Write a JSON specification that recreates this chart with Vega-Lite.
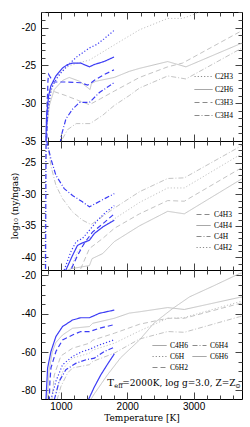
{
"$schema": "https://vega.github.io/schema/vega-lite/v6.json",
"padding": {"left": 9, "top": 5, "right": 5, "bottom": 0},
"spacing": 0,
"bounds": "flush",
"config": {
  "view": {"stroke": "black", "strokeWidth": 1},
  "axis": {"domain": false, "grid": false, "tickColor": "#444", "tickWidth": 1, "labelFont": "Liberation Sans", "labelFontSize": 10, "labelColor": "black", "titleFont": "DejaVu Serif", "titleFontWeight": "normal", "titleColor": "black", "titleFontSize": 9, "labelFlush": false, "labelOverlap": false},
  "legend": {"labelFont": "Liberation Serif", "labelFontSize": 7.5, "labelColor": "black", "symbolStrokeColor": "#8a8a8a", "symbolStrokeWidth": 1, "title": null, "padding": 0}
},
"data": {"values": [
{"p":1,"s":"C2H3","m":"b","t":760,"v":-40},{"p":1,"s":"C2H3","m":"b","t":775,"v":-35},{"p":1,"s":"C2H3","m":"b","t":800,"v":-31.5},{"p":1,"s":"C2H3","m":"b","t":825,"v":-29.8},{"p":1,"s":"C2H3","m":"b","t":850,"v":-28.2},{"p":1,"s":"C2H3","m":"b","t":900,"v":-27.3},{"p":1,"s":"C2H3","m":"b","t":950,"v":-26.6},{"p":1,"s":"C2H3","m":"b","t":1000,"v":-26},{"p":1,"s":"C2H3","m":"b","t":1075,"v":-25.3},{"p":1,"s":"C2H3","m":"b","t":1150,"v":-24.6},{"p":1,"s":"C2H3","m":"b","t":1250,"v":-23.8},{"p":1,"s":"C2H3","m":"b","t":1350,"v":-23.2},{"p":1,"s":"C2H3","m":"b","t":1430,"v":-22.7},{"p":1,"s":"C2H3","m":"b","t":1550,"v":-22.2},{"p":1,"s":"C2H3","m":"b","t":1650,"v":-21.5},{"p":1,"s":"C2H3","m":"b","t":1800,"v":-20.4},
{"p":1,"s":"C2H3","m":"g","t":760,"v":-40},{"p":1,"s":"C2H3","m":"g","t":790,"v":-33},{"p":1,"s":"C2H3","m":"g","t":825,"v":-29.9},{"p":1,"s":"C2H3","m":"g","t":875,"v":-27.7},{"p":1,"s":"C2H3","m":"g","t":975,"v":-26},{"p":1,"s":"C2H3","m":"g","t":1075,"v":-25.3},{"p":1,"s":"C2H3","m":"g","t":1180,"v":-24.9},{"p":1,"s":"C2H3","m":"g","t":1300,"v":-24.6},{"p":1,"s":"C2H3","m":"g","t":1430,"v":-24.3},{"p":1,"s":"C2H3","m":"g","t":1805,"v":-22.3},{"p":1,"s":"C2H3","m":"g","t":2185,"v":-20.3},{"p":1,"s":"C2H3","m":"g","t":2610,"v":-18.8},{"p":1,"s":"C2H3","m":"g","t":2835,"v":-18.8},{"p":1,"s":"C2H3","m":"g","t":3010,"v":-18.25},{"p":1,"s":"C2H3","m":"g","t":3200,"v":-17.5},
{"p":1,"s":"C2H6","m":"b","t":765,"v":-40},{"p":1,"s":"C2H6","m":"b","t":775,"v":-34.7},{"p":1,"s":"C2H6","m":"b","t":785,"v":-31.6},{"p":1,"s":"C2H6","m":"b","t":815,"v":-29},{"p":1,"s":"C2H6","m":"b","t":850,"v":-27.7},{"p":1,"s":"C2H6","m":"b","t":925,"v":-26.4},{"p":1,"s":"C2H6","m":"b","t":1025,"v":-25.35},{"p":1,"s":"C2H6","m":"b","t":1100,"v":-24.9},{"p":1,"s":"C2H6","m":"b","t":1180,"v":-24.7},{"p":1,"s":"C2H6","m":"b","t":1300,"v":-24.7},{"p":1,"s":"C2H6","m":"b","t":1350,"v":-24.9},{"p":1,"s":"C2H6","m":"b","t":1430,"v":-25.2},{"p":1,"s":"C2H6","m":"b","t":1500,"v":-24.9},{"p":1,"s":"C2H6","m":"b","t":1650,"v":-24.5},{"p":1,"s":"C2H6","m":"b","t":1800,"v":-23.9},
{"p":1,"s":"C2H6","m":"g","t":760,"v":-40},{"p":1,"s":"C2H6","m":"g","t":790,"v":-33},{"p":1,"s":"C2H6","m":"g","t":825,"v":-30.3},{"p":1,"s":"C2H6","m":"g","t":900,"v":-28.2},{"p":1,"s":"C2H6","m":"g","t":1025,"v":-27},{"p":1,"s":"C2H6","m":"g","t":1125,"v":-26.6},{"p":1,"s":"C2H6","m":"g","t":1280,"v":-27.1},{"p":1,"s":"C2H6","m":"g","t":1440,"v":-28.2},{"p":1,"s":"C2H6","m":"g","t":1460,"v":-27.4},{"p":1,"s":"C2H6","m":"g","t":1530,"v":-27.1},{"p":1,"s":"C2H6","m":"g","t":1805,"v":-26.6},{"p":1,"s":"C2H6","m":"g","t":2030,"v":-25.8},{"p":1,"s":"C2H6","m":"g","t":2185,"v":-25.4},{"p":1,"s":"C2H6","m":"g","t":2610,"v":-24.5},{"p":1,"s":"C2H6","m":"g","t":2885,"v":-25.2},{"p":1,"s":"C2H6","m":"g","t":3690,"v":-22.2},{"p":1,"s":"C2H6","m":"g","t":3750,"v":-22},
{"p":1,"s":"C3H3","m":"b","t":780,"v":-40},{"p":1,"s":"C3H3","m":"b","t":795,"v":-30},{"p":1,"s":"C3H3","m":"b","t":805,"v":-27},{"p":1,"s":"C3H3","m":"b","t":815,"v":-26.2},{"p":1,"s":"C3H3","m":"b","t":850,"v":-26.7},{"p":1,"s":"C3H3","m":"b","t":900,"v":-27.2},{"p":1,"s":"C3H3","m":"b","t":1100,"v":-27.2},{"p":1,"s":"C3H3","m":"b","t":1300,"v":-27.3},{"p":1,"s":"C3H3","m":"b","t":1400,"v":-27.6},{"p":1,"s":"C3H3","m":"b","t":1430,"v":-27.5},{"p":1,"s":"C3H3","m":"b","t":1500,"v":-27},{"p":1,"s":"C3H3","m":"b","t":1655,"v":-26.2},{"p":1,"s":"C3H3","m":"b","t":1800,"v":-25.6},
{"p":1,"s":"C3H3","m":"g","t":760,"v":-40},{"p":1,"s":"C3H3","m":"g","t":785,"v":-30},{"p":1,"s":"C3H3","m":"g","t":805,"v":-28.2},{"p":1,"s":"C3H3","m":"g","t":875,"v":-28.4},{"p":1,"s":"C3H3","m":"g","t":1075,"v":-29},{"p":1,"s":"C3H3","m":"g","t":1280,"v":-29.7},{"p":1,"s":"C3H3","m":"g","t":1430,"v":-30.2},{"p":1,"s":"C3H3","m":"g","t":1600,"v":-29.4},{"p":1,"s":"C3H3","m":"g","t":1805,"v":-28.4},{"p":1,"s":"C3H3","m":"g","t":2185,"v":-26.6},{"p":1,"s":"C3H3","m":"g","t":2610,"v":-25.2},{"p":1,"s":"C3H3","m":"g","t":2835,"v":-24.7},{"p":1,"s":"C3H3","m":"g","t":3690,"v":-20.6},{"p":1,"s":"C3H3","m":"g","t":3750,"v":-20.3},
{"p":1,"s":"C3H4","m":"b","t":960,"v":-38},{"p":1,"s":"C3H4","m":"b","t":1000,"v":-34.5},{"p":1,"s":"C3H4","m":"b","t":1075,"v":-32.1},{"p":1,"s":"C3H4","m":"b","t":1175,"v":-30.8},{"p":1,"s":"C3H4","m":"b","t":1280,"v":-29.9},{"p":1,"s":"C3H4","m":"b","t":1430,"v":-29.9},{"p":1,"s":"C3H4","m":"b","t":1580,"v":-28.6},{"p":1,"s":"C3H4","m":"b","t":1800,"v":-27.3},
{"p":1,"s":"C3H4","m":"g","t":1000,"v":-36},{"p":1,"s":"C3H4","m":"g","t":1025,"v":-34.7},{"p":1,"s":"C3H4","m":"g","t":1100,"v":-33.5},{"p":1,"s":"C3H4","m":"g","t":1230,"v":-32.7},{"p":1,"s":"C3H4","m":"g","t":1440,"v":-32.7},{"p":1,"s":"C3H4","m":"g","t":1630,"v":-31.6},{"p":1,"s":"C3H4","m":"g","t":1805,"v":-30.3},{"p":1,"s":"C3H4","m":"g","t":2030,"v":-29},{"p":1,"s":"C3H4","m":"g","t":2185,"v":-28},{"p":1,"s":"C3H4","m":"g","t":2610,"v":-26.4},{"p":1,"s":"C3H4","m":"g","t":2885,"v":-26.8},{"p":1,"s":"C3H4","m":"g","t":3690,"v":-22.9},{"p":1,"s":"C3H4","m":"g","t":3750,"v":-22.6},
{"p":2,"s":"C4H3","m":"b","t":1140,"v":-43},{"p":2,"s":"C4H3","m":"b","t":1150,"v":-42},{"p":2,"s":"C4H3","m":"b","t":1250,"v":-39.7},{"p":2,"s":"C4H3","m":"b","t":1350,"v":-37.8},{"p":2,"s":"C4H3","m":"b","t":1475,"v":-36},{"p":2,"s":"C4H3","m":"b","t":1630,"v":-34.7},{"p":2,"s":"C4H3","m":"b","t":1805,"v":-33.1},
{"p":2,"s":"C4H3","m":"g","t":1250,"v":-43},{"p":2,"s":"C4H3","m":"g","t":1430,"v":-38.6},{"p":2,"s":"C4H3","m":"g","t":1630,"v":-37},{"p":2,"s":"C4H3","m":"g","t":1805,"v":-35.4},{"p":2,"s":"C4H3","m":"g","t":2185,"v":-33.1},{"p":2,"s":"C4H3","m":"g","t":2610,"v":-31},{"p":2,"s":"C4H3","m":"g","t":2860,"v":-31.1},{"p":2,"s":"C4H3","m":"g","t":3690,"v":-26},{"p":2,"s":"C4H3","m":"g","t":3750,"v":-25.6},
{"p":2,"s":"C4H4","m":"b","t":1060,"v":-43},{"p":2,"s":"C4H4","m":"b","t":1075,"v":-42},{"p":2,"s":"C4H4","m":"b","t":1175,"v":-39.7},{"p":2,"s":"C4H4","m":"b","t":1250,"v":-38.1},{"p":2,"s":"C4H4","m":"b","t":1325,"v":-37.7},{"p":2,"s":"C4H4","m":"b","t":1430,"v":-37.3},{"p":2,"s":"C4H4","m":"b","t":1505,"v":-36.2},{"p":2,"s":"C4H4","m":"b","t":1630,"v":-35.2},{"p":2,"s":"C4H4","m":"b","t":1805,"v":-34.1},
{"p":2,"s":"C4H4","m":"g","t":1000,"v":-42.5},{"p":2,"s":"C4H4","m":"g","t":1150,"v":-41.8},{"p":2,"s":"C4H4","m":"g","t":1430,"v":-41.3},{"p":2,"s":"C4H4","m":"g","t":1470,"v":-40.2},{"p":2,"s":"C4H4","m":"g","t":1630,"v":-39.4},{"p":2,"s":"C4H4","m":"g","t":1805,"v":-37.5},{"p":2,"s":"C4H4","m":"g","t":2185,"v":-35},{"p":2,"s":"C4H4","m":"g","t":2610,"v":-32.7},{"p":2,"s":"C4H4","m":"g","t":2860,"v":-33.1},{"p":2,"s":"C4H4","m":"g","t":3690,"v":-27.8},{"p":2,"s":"C4H4","m":"g","t":3750,"v":-27.4},
{"p":2,"s":"C4H","m":"b","t":768,"v":-45},{"p":2,"s":"C4H","m":"b","t":775,"v":-25},{"p":2,"s":"C4H","m":"b","t":779,"v":-19},{"p":2,"s":"C4H","m":"b","t":790,"v":-21.8},{"p":2,"s":"C4H","m":"b","t":850,"v":-24.4},{"p":2,"s":"C4H","m":"b","t":925,"v":-27},{"p":2,"s":"C4H","m":"b","t":1050,"v":-29.1},{"p":2,"s":"C4H","m":"b","t":1175,"v":-30.2},{"p":2,"s":"C4H","m":"b","t":1325,"v":-31.2},{"p":2,"s":"C4H","m":"b","t":1430,"v":-32},{"p":2,"s":"C4H","m":"b","t":1605,"v":-31},{"p":2,"s":"C4H","m":"b","t":1805,"v":-29.9},
{"p":2,"s":"C4H","m":"g","t":760,"v":-45},{"p":2,"s":"C4H","m":"g","t":770,"v":-25},{"p":2,"s":"C4H","m":"g","t":776,"v":-19},{"p":2,"s":"C4H","m":"g","t":790,"v":-21.5},{"p":2,"s":"C4H","m":"g","t":850,"v":-25.5},{"p":2,"s":"C4H","m":"g","t":925,"v":-28.6},{"p":2,"s":"C4H","m":"g","t":1025,"v":-30.7},{"p":2,"s":"C4H","m":"g","t":1175,"v":-32.8},{"p":2,"s":"C4H","m":"g","t":1325,"v":-34.1},{"p":2,"s":"C4H","m":"g","t":1455,"v":-34.8},{"p":2,"s":"C4H","m":"g","t":1630,"v":-33.5},{"p":2,"s":"C4H","m":"g","t":1805,"v":-32.2},{"p":2,"s":"C4H","m":"g","t":2185,"v":-29.6},{"p":2,"s":"C4H","m":"g","t":2610,"v":-27.5},{"p":2,"s":"C4H","m":"g","t":2860,"v":-27.4},{"p":2,"s":"C4H","m":"g","t":3690,"v":-22.5},{"p":2,"s":"C4H","m":"g","t":3750,"v":-22.1},
{"p":2,"s":"C4H2","m":"b","t":1030,"v":-43},{"p":2,"s":"C4H2","m":"b","t":1050,"v":-42},{"p":2,"s":"C4H2","m":"b","t":1150,"v":-39.1},{"p":2,"s":"C4H2","m":"b","t":1230,"v":-37.5},{"p":2,"s":"C4H2","m":"b","t":1325,"v":-37},{"p":2,"s":"C4H2","m":"b","t":1430,"v":-35.7},{"p":2,"s":"C4H2","m":"b","t":1555,"v":-34.1},{"p":2,"s":"C4H2","m":"b","t":1680,"v":-32.8},{"p":2,"s":"C4H2","m":"b","t":1805,"v":-31.8},
{"p":2,"s":"C4H2","m":"g","t":1100,"v":-43},{"p":2,"s":"C4H2","m":"g","t":1250,"v":-39.1},{"p":2,"s":"C4H2","m":"g","t":1430,"v":-37},{"p":2,"s":"C4H2","m":"g","t":1630,"v":-35.2},{"p":2,"s":"C4H2","m":"g","t":1805,"v":-33.9},{"p":2,"s":"C4H2","m":"g","t":2185,"v":-31.3},{"p":2,"s":"C4H2","m":"g","t":2610,"v":-29},{"p":2,"s":"C4H2","m":"g","t":2860,"v":-29},{"p":2,"s":"C4H2","m":"g","t":3690,"v":-23.8},{"p":2,"s":"C4H2","m":"g","t":3750,"v":-23.4},
{"p":3,"s":"C4H6","m":"b","t":770,"v":-90},{"p":3,"s":"C4H6","m":"b","t":775,"v":-84.8},{"p":3,"s":"C4H6","m":"b","t":800,"v":-68.3},{"p":3,"s":"C4H6","m":"b","t":850,"v":-59.7},{"p":3,"s":"C4H6","m":"b","t":925,"v":-51.9},{"p":3,"s":"C4H6","m":"b","t":1025,"v":-46.7},{"p":3,"s":"C4H6","m":"b","t":1175,"v":-43.3},{"p":3,"s":"C4H6","m":"b","t":1300,"v":-42.1},{"p":3,"s":"C4H6","m":"b","t":1430,"v":-42.1},{"p":3,"s":"C4H6","m":"b","t":1580,"v":-39.8},{"p":3,"s":"C4H6","m":"b","t":1805,"v":-38.1},
{"p":3,"s":"C4H6","m":"g","t":790,"v":-90},{"p":3,"s":"C4H6","m":"g","t":820,"v":-70},{"p":3,"s":"C4H6","m":"g","t":870,"v":-60},{"p":3,"s":"C4H6","m":"g","t":925,"v":-55},{"p":3,"s":"C4H6","m":"g","t":1025,"v":-51.1},{"p":3,"s":"C4H6","m":"g","t":1175,"v":-47.6},{"p":3,"s":"C4H6","m":"g","t":1430,"v":-46.7},{"p":3,"s":"C4H6","m":"g","t":1480,"v":-45},{"p":3,"s":"C4H6","m":"g","t":1805,"v":-42.4},{"p":3,"s":"C4H6","m":"g","t":2030,"v":-39.7},{"p":3,"s":"C4H6","m":"g","t":2185,"v":-39},{"p":3,"s":"C4H6","m":"g","t":2610,"v":-36.8},{"p":3,"s":"C4H6","m":"g","t":2860,"v":-37.8},{"p":3,"s":"C4H6","m":"g","t":3690,"v":-31.5},{"p":3,"s":"C4H6","m":"g","t":3750,"v":-31.2},
{"p":3,"s":"C6H2","m":"b","t":820,"v":-90},{"p":3,"s":"C6H2","m":"b","t":835,"v":-75},{"p":3,"s":"C6H2","m":"b","t":850,"v":-68.3},{"p":3,"s":"C6H2","m":"b","t":925,"v":-59.7},{"p":3,"s":"C6H2","m":"b","t":1025,"v":-53.7},{"p":3,"s":"C6H2","m":"b","t":1175,"v":-51.1},{"p":3,"s":"C6H2","m":"b","t":1300,"v":-49.3},{"p":3,"s":"C6H2","m":"b","t":1430,"v":-49.3},{"p":3,"s":"C6H2","m":"b","t":1580,"v":-47.6},{"p":3,"s":"C6H2","m":"b","t":1805,"v":-45.7},
{"p":3,"s":"C6H2","m":"g","t":850,"v":-90},{"p":3,"s":"C6H2","m":"g","t":900,"v":-72},{"p":3,"s":"C6H2","m":"g","t":1000,"v":-62},{"p":3,"s":"C6H2","m":"g","t":1175,"v":-58},{"p":3,"s":"C6H2","m":"g","t":1430,"v":-55.4},{"p":3,"s":"C6H2","m":"g","t":1480,"v":-53.8},{"p":3,"s":"C6H2","m":"g","t":1805,"v":-50.2},{"p":3,"s":"C6H2","m":"g","t":2185,"v":-45.5},{"p":3,"s":"C6H2","m":"g","t":2610,"v":-42.4},{"p":3,"s":"C6H2","m":"g","t":2860,"v":-42.4},{"p":3,"s":"C6H2","m":"g","t":3690,"v":-34.7},{"p":3,"s":"C6H2","m":"g","t":3750,"v":-34.3},
{"p":3,"s":"C6H","m":"b","t":840,"v":-90},{"p":3,"s":"C6H","m":"b","t":850,"v":-84.8},{"p":3,"s":"C6H","m":"b","t":925,"v":-75.2},{"p":3,"s":"C6H","m":"b","t":1025,"v":-66.6},{"p":3,"s":"C6H","m":"b","t":1175,"v":-62.3},{"p":3,"s":"C6H","m":"b","t":1325,"v":-59.7},{"p":3,"s":"C6H","m":"b","t":1430,"v":-58.6},{"p":3,"s":"C6H","m":"b","t":1580,"v":-56.3},{"p":3,"s":"C6H","m":"b","t":1805,"v":-53.6},
{"p":3,"s":"C6H","m":"g","t":880,"v":-90},{"p":3,"s":"C6H","m":"g","t":950,"v":-78},{"p":3,"s":"C6H","m":"g","t":1050,"v":-68},{"p":3,"s":"C6H","m":"g","t":1175,"v":-63.2},{"p":3,"s":"C6H","m":"g","t":1430,"v":-60.6},{"p":3,"s":"C6H","m":"g","t":1480,"v":-59},{"p":3,"s":"C6H","m":"g","t":1805,"v":-55.4},{"p":3,"s":"C6H","m":"g","t":2185,"v":-49},{"p":3,"s":"C6H","m":"g","t":2610,"v":-42.4},{"p":3,"s":"C6H","m":"g","t":2860,"v":-42},{"p":3,"s":"C6H","m":"g","t":3690,"v":-33.8},{"p":3,"s":"C6H","m":"g","t":3750,"v":-33.4},
{"p":3,"s":"C6H4","m":"b","t":880,"v":-90},{"p":3,"s":"C6H4","m":"b","t":900,"v":-84.8},{"p":3,"s":"C6H4","m":"b","t":975,"v":-75.2},{"p":3,"s":"C6H4","m":"b","t":1075,"v":-69.2},{"p":3,"s":"C6H4","m":"b","t":1230,"v":-65.8},{"p":3,"s":"C6H4","m":"b","t":1380,"v":-64},{"p":3,"s":"C6H4","m":"b","t":1505,"v":-63.2},{"p":3,"s":"C6H4","m":"b","t":1655,"v":-59.7},{"p":3,"s":"C6H4","m":"b","t":1805,"v":-57.5},
{"p":3,"s":"C6H4","m":"g","t":900,"v":-90},{"p":3,"s":"C6H4","m":"g","t":1000,"v":-78},{"p":3,"s":"C6H4","m":"g","t":1100,"v":-71},{"p":3,"s":"C6H4","m":"g","t":1175,"v":-68.3},{"p":3,"s":"C6H4","m":"g","t":1430,"v":-66.6},{"p":3,"s":"C6H4","m":"g","t":1480,"v":-64.9},{"p":3,"s":"C6H4","m":"g","t":1805,"v":-60.6},{"p":3,"s":"C6H4","m":"g","t":2185,"v":-53.2},{"p":3,"s":"C6H4","m":"g","t":2610,"v":-49.3},{"p":3,"s":"C6H4","m":"g","t":2860,"v":-49.7},{"p":3,"s":"C6H4","m":"g","t":3690,"v":-41.6},{"p":3,"s":"C6H4","m":"g","t":3750,"v":-41.2},
{"p":3,"s":"C6H6","m":"b","t":1390,"v":-88},{"p":3,"s":"C6H6","m":"b","t":1420,"v":-84.5},{"p":3,"s":"C6H6","m":"b","t":1500,"v":-78.5},{"p":3,"s":"C6H6","m":"b","t":1600,"v":-72},{"p":3,"s":"C6H6","m":"b","t":1700,"v":-66.5},{"p":3,"s":"C6H6","m":"b","t":1805,"v":-61},
{"p":3,"s":"C6H6","m":"g","t":1430,"v":-86},{"p":3,"s":"C6H6","m":"g","t":1500,"v":-82},{"p":3,"s":"C6H6","m":"g","t":1700,"v":-72},{"p":3,"s":"C6H6","m":"g","t":1900,"v":-63},{"p":3,"s":"C6H6","m":"g","t":2185,"v":-53.7},{"p":3,"s":"C6H6","m":"g","t":2400,"v":-45},{"p":3,"s":"C6H6","m":"g","t":2685,"v":-37.3},{"p":3,"s":"C6H6","m":"g","t":2940,"v":-31.2},{"p":3,"s":"C6H6","m":"g","t":3300,"v":-25.5},{"p":3,"s":"C6H6","m":"g","t":3690,"v":-19.1},{"p":3,"s":"C6H6","m":"g","t":3750,"v":-18.5}
]},
"vconcat": [
{
 "width": 201, "height": 129,
 "layer": [
  {"transform": [{"filter": "datum.p === 1 && datum.m === 'g'"}],
   "mark": {"type": "line", "clip": true, "strokeWidth": 1},
   "encoding": {
    "x": {"field": "t", "type": "quantitative", "scale": {"domain": [700, 3730], "nice": false, "zero": false},
      "axis": {"orient": "bottom", "values": [800,1000,1200,1400,1600,1800,2000,2200,2400,2600,2800,3000,3200,3400,3600], "labels": false, "title": null, "tickSize": {"condition": {"test": "datum.value % 1000 === 0", "value": -7}, "value": -4}}},
    "y": {"field": "v", "type": "quantitative", "scale": {"domain": [-35, -17.95], "nice": false, "zero": false},
      "axis": {"orient": "left", "values": [-35,-34,-33,-32,-31,-30,-29,-28,-27,-26,-25,-24,-23,-22,-21,-20,-19,-18], "labelExpr": "datum.value % 5 === 0 ? '' + datum.value : ''", "labelFontSize": {"condition": {"test": "datum.value % 5 === 0", "value": 10}, "value": 0}, "labelPadding": 12.5, "title": null, "tickSize": {"condition": {"test": "datum.value % 5 === 0", "value": -7}, "value": -4}}},
    "color": {"field": "m", "type": "nominal", "scale": {"domain": ["g", "b"], "range": ["#c4c4c4", "#3c3cf5"]}, "legend": null},
    "strokeDash": {"field": "s", "type": "nominal", "scale": {"domain": ["C2H3", "C2H6", "C3H3", "C3H4"], "range": [[1.2, 2], [1, 0], [5, 3], [5, 2, 1, 2]]},
      "legend": {"orient": "none", "legendX": 153, "legendY": 55, "symbolSize": 324, "rowPadding": -2, "labelOffset": 2}}
   }},
  {"transform": [{"filter": "datum.p === 1 && datum.m === 'b'"}],
   "mark": {"type": "line", "clip": true, "strokeWidth": 1.2},
   "encoding": {
    "x": {"field": "t", "type": "quantitative", "axis": null},
    "y": {"field": "v", "type": "quantitative", "axis": null},
    "color": {"field": "m", "type": "nominal", "legend": null},
    "strokeDash": {"field": "s", "type": "nominal", "legend": {"orient": "none", "legendX": 153, "legendY": 55, "symbolSize": 324, "rowPadding": -2, "labelOffset": 2}}
   }},
  {"transform": [{"filter": "datum.p === 1"}],
   "mark": {"type": "point", "opacity": 0},
   "encoding": {
    "x": {"field": "t", "type": "quantitative", "axis": {"orient": "top", "values": [800,1000,1200,1400,1600,1800,2000,2200,2400,2600,2800,3000,3200,3400,3600], "labels": false, "title": null, "tickSize": {"condition": {"test": "datum.value % 1000 === 0", "value": -7}, "value": -4}}},
    "y": {"field": "v", "type": "quantitative", "axis": {"orient": "right", "values": [-35,-34,-33,-32,-31,-30,-29,-28,-27,-26,-25,-24,-23,-22,-21,-20,-19,-18], "labels": false, "title": null, "tickSize": {"condition": {"test": "datum.value % 5 === 0", "value": -7}, "value": -4}}}
   }}
 ],
 "resolve": {"axis": {"x": "independent", "y": "independent"}}
},
{
 "width": 201, "height": 129,
 "layer": [
  {"transform": [{"filter": "datum.p === 2 && datum.m === 'g'"}],
   "mark": {"type": "line", "clip": true, "strokeWidth": 1},
   "encoding": {
    "x": {"field": "t", "type": "quantitative", "scale": {"domain": [700, 3730], "nice": false, "zero": false},
      "axis": {"orient": "bottom", "values": [800,1000,1200,1400,1600,1800,2000,2200,2400,2600,2800,3000,3200,3400,3600], "labels": false, "title": null, "tickSize": {"condition": {"test": "datum.value % 1000 === 0", "value": -7}, "value": -4}}},
    "y": {"field": "v", "type": "quantitative", "scale": {"domain": [-42, -21.56], "nice": false, "zero": false},
      "axis": {"orient": "left", "values": [-42,-41,-40,-39,-38,-37,-36,-35,-34,-33,-32,-31,-30,-29,-28,-27,-26,-25,-24,-23,-22], "labelExpr": "datum.value % 5 === 0 ? '' + datum.value : ''", "labelFontSize": {"condition": {"test": "datum.value % 5 === 0", "value": 10}, "value": 0}, "labelPadding": 12.5, "title": "log₁₀ (ny/ngas)", "titlePadding": 2, "tickSize": {"condition": {"test": "datum.value % 5 === 0", "value": -7}, "value": -4}}},
    "color": {"field": "m", "type": "nominal", "scale": {"domain": ["g", "b"], "range": ["#c4c4c4", "#3c3cf5"]}, "legend": null},
    "strokeDash": {"field": "s", "type": "nominal", "scale": {"domain": ["C4H3", "C4H4", "C4H", "C4H2"], "range": [[5, 3], [1, 0], [5, 2, 1, 2], [1.2, 2]]},
      "legend": {"orient": "none", "legendX": 155, "legendY": 66, "symbolSize": 196, "rowPadding": 0, "labelOffset": 3}}
   }},
  {"transform": [{"filter": "datum.p === 2 && datum.m === 'b'"}],
   "mark": {"type": "line", "clip": true, "strokeWidth": 1.2},
   "encoding": {
    "x": {"field": "t", "type": "quantitative", "axis": null},
    "y": {"field": "v", "type": "quantitative", "axis": null},
    "color": {"field": "m", "type": "nominal", "legend": null},
    "strokeDash": {"field": "s", "type": "nominal", "legend": {"orient": "none", "legendX": 155, "legendY": 66, "symbolSize": 196, "rowPadding": 0, "labelOffset": 3}}
   }},
  {"transform": [{"filter": "datum.p === 2"}],
   "mark": {"type": "point", "opacity": 0},
   "encoding": {
    "x": {"field": "t", "type": "quantitative", "axis": {"orient": "top", "values": [800,1000,1200,1400,1600,1800,2000,2200,2400,2600,2800,3000,3200,3400,3600], "labels": false, "title": null, "tickSize": {"condition": {"test": "datum.value % 1000 === 0", "value": -7}, "value": -4}}},
    "y": {"field": "v", "type": "quantitative", "axis": {"orient": "right", "values": [-42,-41,-40,-39,-38,-37,-36,-35,-34,-33,-32,-31,-30,-29,-28,-27,-26,-25,-24,-23,-22], "labels": false, "title": null, "tickSize": {"condition": {"test": "datum.value % 5 === 0", "value": -7}, "value": -4}}}
   }}
 ],
 "resolve": {"axis": {"x": "independent", "y": "independent"}}
},
{
 "width": 201, "height": 129,
 "layer": [
  {"transform": [{"filter": "datum.p === 3 && datum.m === 'g'"}],
   "mark": {"type": "line", "clip": true, "strokeWidth": 1},
   "encoding": {
    "x": {"field": "t", "type": "quantitative", "scale": {"domain": [700, 3730], "nice": false, "zero": false},
      "axis": {"orient": "bottom", "values": [800,1000,1200,1400,1600,1800,2000,2200,2400,2600,2800,3000,3200,3400,3600], "labelExpr": "datum.value % 1000 === 0 ? '' + datum.value : ''", "labelFontSize": {"condition": {"test": "datum.value % 1000 === 0", "value": 10}, "value": 0}, "labelPadding": 9, "title": "Temperature [K]", "titlePadding": 2, "tickSize": {"condition": {"test": "datum.value % 1000 === 0", "value": -7}, "value": -4}}},
    "y": {"field": "v", "type": "quantitative", "scale": {"domain": [-84.5, -17.2], "nice": false, "zero": false},
      "axis": {"orient": "left", "values": [-80,-75,-70,-65,-60,-55,-50,-45,-40,-35,-30,-25,-20], "labelExpr": "datum.value % 20 === 0 ? '' + datum.value : ''", "labelFontSize": {"condition": {"test": "datum.value % 20 === 0", "value": 10}, "value": 0}, "labelPadding": 12.5, "title": null, "tickSize": {"condition": {"test": "datum.value % 20 === 0", "value": -7}, "value": -4}}},
    "color": {"field": "m", "type": "nominal", "scale": {"domain": ["g", "b"], "range": ["#c4c4c4", "#3c3cf5"]}, "legend": null},
    "strokeDash": {"field": "s", "type": "nominal", "scale": {"domain": ["C4H6", "C6H", "C6H2", "C6H4", "C6H6"], "range": [[1, 0], [1.2, 2], [5, 3], [5, 2, 1, 2], [1, 0]]},
      "legend": {"orient": "none", "legendX": 111, "legendY": 68, "columns": 2, "columnPadding": 2, "symbolSize": 196, "rowPadding": -4, "labelOffset": 3}}
   }},
  {"transform": [{"filter": "datum.p === 3 && datum.m === 'b'"}],
   "mark": {"type": "line", "clip": true, "strokeWidth": 1.2},
   "encoding": {
    "x": {"field": "t", "type": "quantitative", "axis": null},
    "y": {"field": "v", "type": "quantitative", "axis": null},
    "color": {"field": "m", "type": "nominal", "legend": null},
    "strokeDash": {"field": "s", "type": "nominal", "legend": {"orient": "none", "legendX": 111, "legendY": 68, "columns": 2, "columnPadding": 2, "symbolSize": 196, "rowPadding": -4, "labelOffset": 3}}
   }},
  {"transform": [{"filter": "datum.p === 3"}],
   "mark": {"type": "point", "opacity": 0},
   "encoding": {
    "x": {"field": "t", "type": "quantitative", "axis": {"orient": "top", "values": [800,1000,1200,1400,1600,1800,2000,2200,2400,2600,2800,3000,3200,3400,3600], "labels": false, "title": null, "tickSize": {"condition": {"test": "datum.value % 1000 === 0", "value": -7}, "value": -4}}},
    "y": {"field": "v", "type": "quantitative", "axis": {"orient": "right", "values": [-80,-75,-70,-65,-60,-55,-50,-45,-40,-35,-30,-25,-20], "labels": false, "title": null, "tickSize": {"condition": {"test": "datum.value % 20 === 0", "value": -7}, "value": -4}}}
   }},
  {"data": {"values": [
     {"t": 1700, "v": -76.2, "txt": "T", "fs": 10},
     {"t": 1805, "v": -77.8, "txt": "eff", "fs": 6.5},
     {"t": 1925, "v": -76.2, "txt": "=2000K, log g=3.0, Z=Z", "fs": 9},
     {"t": 3630, "v": -77.8, "txt": "⊙", "fs": 6.5}
   ]},
   "mark": {"type": "text", "font": "DejaVu Serif", "align": "left", "baseline": "middle", "color": "black"},
   "encoding": {
    "x": {"field": "t", "type": "quantitative", "axis": null},
    "y": {"field": "v", "type": "quantitative", "axis": null},
    "text": {"field": "txt"},
    "size": {"field": "fs", "type": "quantitative", "scale": null}
   }}
 ],
 "resolve": {"axis": {"x": "independent", "y": "independent"}}
}
],
"resolve": {"scale": {"x": "independent", "y": "independent", "color": "independent", "strokeDash": "independent"}, "legend": {"strokeDash": "independent"}}
}
